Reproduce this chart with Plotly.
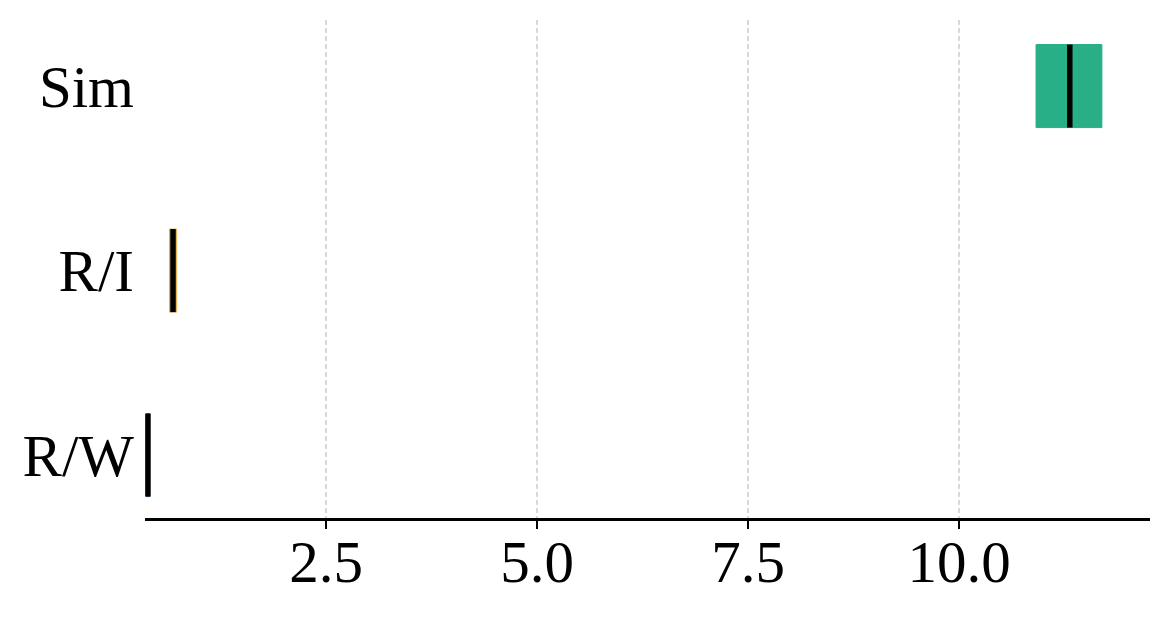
import plotly.graph_objects as go

# box statistics per group
groups = ['R/W', 'R/I', 'Sim']
q1 = [0.37, 0.645, 10.91]
median = [0.39, 0.687, 11.31]
q3 = [0.41, 0.73, 11.69]
colors = ['#3b78b8', '#e6b04a', '#29af87']

tick_values = [2.5, 5.0, 7.5, 10.0]
tick_labels = ['2.5', '5.0', '7.5', '10.0']

box_width = 0.45
font_family = 'Liberation Serif, Times New Roman, serif'

def build_figure():
    figure = go.Figure()
    positions = list(range(len(groups)))
    figure.add_trace(go.Bar(
        y=positions,
        x=[hi - lo for lo, hi in zip(q1, q3)],
        base=q1,
        orientation='h',
        width=box_width,
        marker=dict(color=colors, line=dict(color=colors, width=1)),
        showlegend=False,
        hoverinfo='none'))
    for pos, med in zip(positions, median):
        figure.add_trace(go.Scatter(
            x=[med, med],
            y=[pos - box_width / 2, pos + box_width / 2],
            mode='lines',
            line=dict(color='black', width=5.5),
            showlegend=False,
            hoverinfo='none'))
    figure.update_layout(
        width=1172,
        height=618,
        margin=dict(l=137, r=30, t=12, b=108),
        plot_bgcolor='white',
        paper_bgcolor='white',
        font=dict(family=font_family, size=59, color='black'),
        xaxis=dict(
            range=[0.355, 12.26],
            tickvals=tick_values,
            ticktext=tick_labels,
            showline=True,
            linecolor='black',
            linewidth=2.5,
            ticks='outside',
            ticklen=8,
            tickwidth=2,
            tickcolor='black',
            ticklabelstandoff=-18,
            showgrid=True,
            gridcolor='#d8d8d8',
            gridwidth=1.5,
            griddash='5px,3px',
            zeroline=False,
            tickfont=dict(family=font_family, size=59, color='black'),
        ),
        yaxis=dict(
            range=[-0.341, 2.358],
            tickvals=list(range(len(groups))),
            ticktext=groups,
            showline=False,
            showgrid=False,
            zeroline=False,
            ticks='',
            ticklabelstandoff=10,
            tickfont=dict(family=font_family, size=59, color='black'),
        ),
    )
    return figure

fig = build_figure()
fig.write_html("out.html")
